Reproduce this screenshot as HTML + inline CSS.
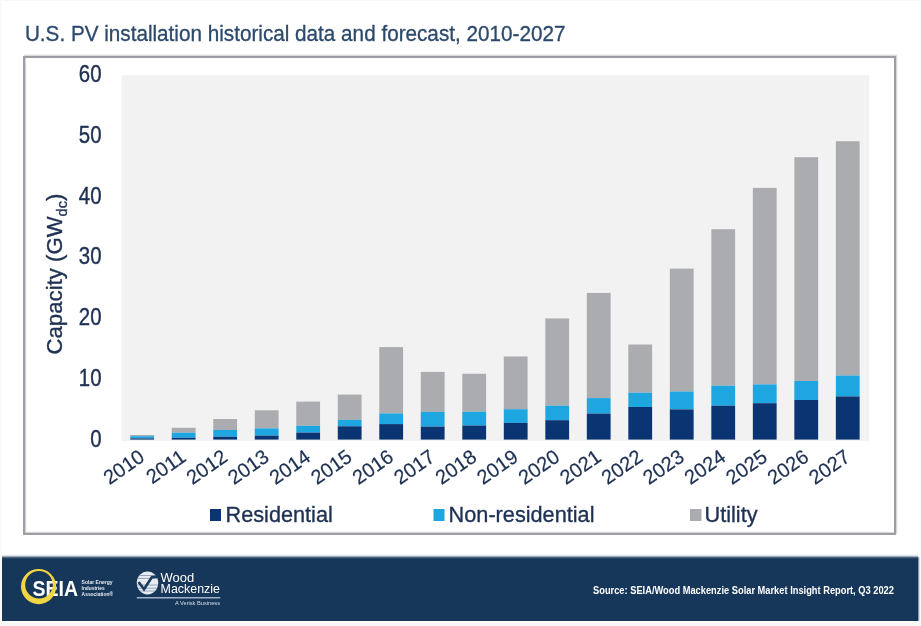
<!DOCTYPE html>
<html><head><meta charset="utf-8"><title>U.S. PV installation historical data and forecast</title><style>
html,body{margin:0;padding:0;background:#fff;}
body{width:921px;height:626px;position:relative;overflow:hidden;font-family:"Liberation Sans",Arial,sans-serif;}
.a{position:absolute;}
#box{left:23px;top:56px;width:869px;height:475px;border:2px solid #9d9ea3;box-shadow:1px -1px 1.2px rgba(157,158,163,.5), inset 1px -1px 1.2px rgba(157,158,163,.5);}
#footer{left:2px;top:559px;width:916px;height:62px;background:#17375a;}
svg text{font-family:"Liberation Sans",Arial,sans-serif;}
</style></head><body>
<div class="a" style="left:0;top:0;width:921px;height:1px;background:#f8f8f8"></div>
<div class="a" style="left:0;top:0;width:2px;height:626px;background:#fafafa"></div>
<div class="a" style="left:920px;top:0;width:1px;height:626px;background:#fafafa"></div>
<div class="a" style="left:0;top:622px;width:921px;height:4px;background:#f8f8f8"></div>
<div class="a" id="box"></div>
<svg class="a" style="left:0;top:0" width="921" height="626" viewBox="0 0 921 626">
<text transform="translate(24.90 40.50) scale(1 1.08)" font-size="20.7" fill="#2d4a6c" stroke="#2d4a6c" stroke-width="0.3">U.S. PV installation historical data and forecast, 2010-2027</text>
<rect x="121.4" y="75.2" width="747.80" height="366.00" fill="#f2f2f2"/>
<rect x="130.25" y="435.00" width="23.8" height="1.20" fill="#abacb0"/><rect x="130.25" y="436.20" width="23.8" height="2.20" fill="#1ea6e0"/><rect x="130.25" y="438.40" width="23.8" height="1.20" fill="#0b3473"/><rect x="171.76" y="427.80" width="23.8" height="4.90" fill="#abacb0"/><rect x="171.76" y="432.70" width="23.8" height="5.10" fill="#1ea6e0"/><rect x="171.76" y="437.80" width="23.8" height="1.80" fill="#0b3473"/><rect x="213.26" y="419.00" width="23.8" height="11.00" fill="#abacb0"/><rect x="213.26" y="430.00" width="23.8" height="6.70" fill="#1ea6e0"/><rect x="213.26" y="436.70" width="23.8" height="2.90" fill="#0b3473"/><rect x="254.77" y="410.30" width="23.8" height="18.10" fill="#abacb0"/><rect x="254.77" y="428.40" width="23.8" height="7.20" fill="#1ea6e0"/><rect x="254.77" y="435.60" width="23.8" height="4.00" fill="#0b3473"/><rect x="296.28" y="401.60" width="23.8" height="24.20" fill="#abacb0"/><rect x="296.28" y="425.80" width="23.8" height="6.80" fill="#1ea6e0"/><rect x="296.28" y="432.60" width="23.8" height="7.00" fill="#0b3473"/><rect x="337.78" y="394.60" width="23.8" height="25.30" fill="#abacb0"/><rect x="337.78" y="419.90" width="23.8" height="6.40" fill="#1ea6e0"/><rect x="337.78" y="426.30" width="23.8" height="13.30" fill="#0b3473"/><rect x="379.29" y="347.10" width="23.8" height="66.30" fill="#abacb0"/><rect x="379.29" y="413.40" width="23.8" height="10.70" fill="#1ea6e0"/><rect x="379.29" y="424.10" width="23.8" height="15.50" fill="#0b3473"/><rect x="420.79" y="371.90" width="23.8" height="40.00" fill="#abacb0"/><rect x="420.79" y="411.90" width="23.8" height="14.70" fill="#1ea6e0"/><rect x="420.79" y="426.60" width="23.8" height="13.00" fill="#0b3473"/><rect x="462.30" y="373.80" width="23.8" height="38.00" fill="#abacb0"/><rect x="462.30" y="411.80" width="23.8" height="13.70" fill="#1ea6e0"/><rect x="462.30" y="425.50" width="23.8" height="14.10" fill="#0b3473"/><rect x="503.80" y="356.50" width="23.8" height="52.70" fill="#abacb0"/><rect x="503.80" y="409.20" width="23.8" height="13.70" fill="#1ea6e0"/><rect x="503.80" y="422.90" width="23.8" height="16.70" fill="#0b3473"/><rect x="545.31" y="318.40" width="23.8" height="87.30" fill="#abacb0"/><rect x="545.31" y="405.70" width="23.8" height="14.50" fill="#1ea6e0"/><rect x="545.31" y="420.20" width="23.8" height="19.40" fill="#0b3473"/><rect x="586.81" y="292.90" width="23.8" height="105.20" fill="#abacb0"/><rect x="586.81" y="398.10" width="23.8" height="15.50" fill="#1ea6e0"/><rect x="586.81" y="413.60" width="23.8" height="26.00" fill="#0b3473"/><rect x="628.32" y="344.50" width="23.8" height="48.20" fill="#abacb0"/><rect x="628.32" y="392.70" width="23.8" height="14.30" fill="#1ea6e0"/><rect x="628.32" y="407.00" width="23.8" height="32.60" fill="#0b3473"/><rect x="669.83" y="268.60" width="23.8" height="122.90" fill="#abacb0"/><rect x="669.83" y="391.50" width="23.8" height="17.90" fill="#1ea6e0"/><rect x="669.83" y="409.40" width="23.8" height="30.20" fill="#0b3473"/><rect x="711.33" y="229.20" width="23.8" height="156.50" fill="#abacb0"/><rect x="711.33" y="385.70" width="23.8" height="20.00" fill="#1ea6e0"/><rect x="711.33" y="405.70" width="23.8" height="33.90" fill="#0b3473"/><rect x="752.84" y="187.90" width="23.8" height="196.50" fill="#abacb0"/><rect x="752.84" y="384.40" width="23.8" height="18.80" fill="#1ea6e0"/><rect x="752.84" y="403.20" width="23.8" height="36.40" fill="#0b3473"/><rect x="794.34" y="157.20" width="23.8" height="223.80" fill="#abacb0"/><rect x="794.34" y="381.00" width="23.8" height="19.00" fill="#1ea6e0"/><rect x="794.34" y="400.00" width="23.8" height="39.60" fill="#0b3473"/><rect x="835.85" y="141.20" width="23.8" height="234.30" fill="#abacb0"/><rect x="835.85" y="375.50" width="23.8" height="20.90" fill="#1ea6e0"/><rect x="835.85" y="396.40" width="23.8" height="43.20" fill="#0b3473"/>
<g><text transform="translate(101.50 446.50) scale(1 1.17)" font-size="20.4" fill="#1e3153" stroke="#1e3153" stroke-width="0.35" text-anchor="end">0</text><text transform="translate(101.50 385.77) scale(1 1.17)" font-size="20.4" fill="#1e3153" stroke="#1e3153" stroke-width="0.35" text-anchor="end">10</text><text transform="translate(101.50 325.03) scale(1 1.17)" font-size="20.4" fill="#1e3153" stroke="#1e3153" stroke-width="0.35" text-anchor="end">20</text><text transform="translate(101.50 264.30) scale(1 1.17)" font-size="20.4" fill="#1e3153" stroke="#1e3153" stroke-width="0.35" text-anchor="end">30</text><text transform="translate(101.50 203.57) scale(1 1.17)" font-size="20.4" fill="#1e3153" stroke="#1e3153" stroke-width="0.35" text-anchor="end">40</text><text transform="translate(101.50 142.83) scale(1 1.17)" font-size="20.4" fill="#1e3153" stroke="#1e3153" stroke-width="0.35" text-anchor="end">50</text><text transform="translate(101.50 82.10) scale(1 1.17)" font-size="20.4" fill="#1e3153" stroke="#1e3153" stroke-width="0.35" text-anchor="end">60</text></g>
<g font-size="20" fill="#1e3153"><text transform="translate(145.95 459.80) rotate(-35)" text-anchor="end" stroke="#1e3153" stroke-width="0.2">2010</text><text transform="translate(187.46 459.80) rotate(-35)" text-anchor="end" stroke="#1e3153" stroke-width="0.2">2011</text><text transform="translate(228.96 459.80) rotate(-35)" text-anchor="end" stroke="#1e3153" stroke-width="0.2">2012</text><text transform="translate(270.47 459.80) rotate(-35)" text-anchor="end" stroke="#1e3153" stroke-width="0.2">2013</text><text transform="translate(311.98 459.80) rotate(-35)" text-anchor="end" stroke="#1e3153" stroke-width="0.2">2014</text><text transform="translate(353.48 459.80) rotate(-35)" text-anchor="end" stroke="#1e3153" stroke-width="0.2">2015</text><text transform="translate(394.99 459.80) rotate(-35)" text-anchor="end" stroke="#1e3153" stroke-width="0.2">2016</text><text transform="translate(436.49 459.80) rotate(-35)" text-anchor="end" stroke="#1e3153" stroke-width="0.2">2017</text><text transform="translate(478.00 459.80) rotate(-35)" text-anchor="end" stroke="#1e3153" stroke-width="0.2">2018</text><text transform="translate(519.50 459.80) rotate(-35)" text-anchor="end" stroke="#1e3153" stroke-width="0.2">2019</text><text transform="translate(561.01 459.80) rotate(-35)" text-anchor="end" stroke="#1e3153" stroke-width="0.2">2020</text><text transform="translate(602.51 459.80) rotate(-35)" text-anchor="end" stroke="#1e3153" stroke-width="0.2">2021</text><text transform="translate(644.02 459.80) rotate(-35)" text-anchor="end" stroke="#1e3153" stroke-width="0.2">2022</text><text transform="translate(685.52 459.80) rotate(-35)" text-anchor="end" stroke="#1e3153" stroke-width="0.2">2023</text><text transform="translate(727.03 459.80) rotate(-35)" text-anchor="end" stroke="#1e3153" stroke-width="0.2">2024</text><text transform="translate(768.54 459.80) rotate(-35)" text-anchor="end" stroke="#1e3153" stroke-width="0.2">2025</text><text transform="translate(810.04 459.80) rotate(-35)" text-anchor="end" stroke="#1e3153" stroke-width="0.2">2026</text><text transform="translate(851.55 459.80) rotate(-35)" text-anchor="end" stroke="#1e3153" stroke-width="0.2">2027</text></g>
<text transform="translate(61.7 354.5) rotate(-90)" font-size="22.2" fill="#1e3153" stroke="#1e3153" stroke-width="0.35">Capacity (GW<tspan font-size="14.5" dy="5">dc</tspan><tspan dy="-5">)</tspan></text>
<rect x="210" y="509" width="11" height="12" fill="#0b3473"/><text transform="translate(225.50 522.00) scale(1 1.04)" font-size="21.7" fill="#1e3153" stroke="#1e3153" stroke-width="0.35">Residential</text>
<rect x="433.5" y="509" width="11" height="12" fill="#1ea6e0"/><text transform="translate(448.60 522.00) scale(1 1.04)" font-size="21.7" fill="#1e3153" stroke="#1e3153" stroke-width="0.35">Non-residential</text>
<rect x="690" y="509" width="11.5" height="12" fill="#abacb0"/><text transform="translate(704.50 522.00) scale(1 1.04)" font-size="21.7" fill="#1e3153" stroke="#1e3153" stroke-width="0.35">Utility</text>
</svg>
<div class="a" id="footer"></div>
<div class="a" style="left:918px;top:557px;width:1px;height:64px;background:rgba(23,55,90,0.5)"></div>
<div class="a" style="left:919px;top:557px;width:1px;height:64px;background:rgba(23,55,90,0.15)"></div>
<div class="a" style="left:2px;top:554px;width:916px;height:1px;background:rgba(23,55,90,0.03)"></div>
<div class="a" style="left:2px;top:555px;width:916px;height:1px;background:rgba(23,55,90,0.13)"></div>
<div class="a" style="left:2px;top:556px;width:916px;height:1px;background:rgba(23,55,90,0.42)"></div>
<div class="a" style="left:2px;top:557px;width:916px;height:1px;background:rgba(23,55,90,0.78)"></div>
<div class="a" style="left:2px;top:558px;width:916px;height:1px;background:rgba(23,55,90,0.95)"></div>
<svg class="a" style="left:0;top:0" width="921" height="626" viewBox="0 0 921 626">
<text x="32.6" y="596" font-size="21.5" font-weight="bold" fill="#ffffff" textLength="45.5" lengthAdjust="spacingAndGlyphs">SEIA</text>
<path fill-rule="evenodd" fill="#f2d543" d="M21 586.6 A17.6 17.6 0 1 0 56.2 586.6 A17.6 17.6 0 1 0 21 586.6 Z M25.2 584.8 A13.8 13.8 0 1 1 52.8 584.8 A13.8 13.8 0 1 1 25.2 584.8 Z"/>
<g font-size="5.6" font-weight="bold" fill="#e8ecf2">
<text x="81.6" y="584" textLength="31" lengthAdjust="spacingAndGlyphs">Solar Energy</text>
<text x="81.6" y="590.2" textLength="23" lengthAdjust="spacingAndGlyphs">Industries</text>
<text x="81.6" y="596.4" textLength="31.5" lengthAdjust="spacingAndGlyphs">Association&#174;</text>
</g>
<ellipse cx="147.5" cy="582.9" rx="10.7" ry="11.5" fill="#e8ecf2"/>
<clipPath id="wmc"><ellipse cx="147.5" cy="582.9" rx="10.7" ry="11.5"/></clipPath>
<g stroke="#8a9ab0" stroke-width="0.9" clip-path="url(#wmc)">
<line x1="136" y1="575.5" x2="159" y2="575.5"/>
<line x1="136" y1="578.4" x2="159" y2="578.4"/>
<line x1="136" y1="585" x2="159" y2="585"/>
<line x1="136" y1="588.2" x2="159" y2="588.2"/>
<line x1="136" y1="591" x2="159" y2="591"/>
</g>
<path d="M138.6 582 L144 589.2 L151.8 577.2 L157.5 576.6" fill="none" stroke="#1a3a5e" stroke-width="2.6"/>
<text x="160.6" y="582.2" font-size="13" fill="#ffffff" textLength="33.6" lengthAdjust="spacingAndGlyphs">Wood</text>
<text x="160.6" y="593.2" font-size="12.6" fill="#ffffff" textLength="59.4" lengthAdjust="spacingAndGlyphs">Mackenzie</text>
<rect x="136.8" y="597" width="83.4" height="1.5" fill="#9fb2c7"/>
<text x="175" y="605.2" font-size="5.9" fill="#d8dee8" textLength="45" lengthAdjust="spacingAndGlyphs">A Verisk Business</text>
<text transform="translate(593 594) scale(1 1.15)" font-size="9.3" font-weight="bold" fill="#ffffff">Source: SEIA/Wood Mackenzie Solar Market Insight Report, Q3 2022</text>
</svg>
</body></html>
